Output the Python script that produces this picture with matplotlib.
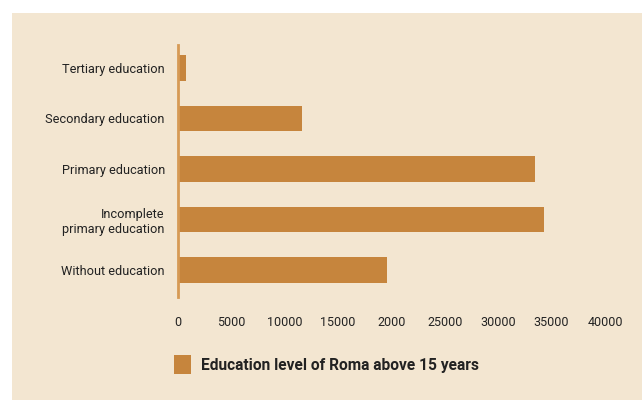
import matplotlib.pyplot as plt
from matplotlib.patches import Rectangle, Patch

# Data
categories = ['Without education', 'Incomplete\nprimary education', 'Primary education',
              'Secondary education', 'Tertiary education']
values = [19600, 34300, 33450, 11600, 750]
xticks = [0, 5000, 10000, 15000, 20000, 25000, 30000, 35000, 40000]
xtick_labels = ['0', '5000', '10000', '15000', '2000', '25000', '30000', '35000', '40000']
series_name = 'Education level of Roma above 15 years'

bar_color = '#C6853D'
bg_color = '#F3E6D1'
text_color = '#222222'

plt.rcParams['font.family'] = ['Roboto', 'DejaVu Sans']

fig = plt.figure(figsize=(6.42, 4.0), dpi=100, facecolor='white')
fig.patches.append(Rectangle((12 / 642, 0), 1 - 12 / 642, 1 - 13 / 400,
                             transform=fig.transFigure, facecolor=bg_color,
                             edgecolor='none', zorder=-10))

ax = fig.add_axes([178 / 642, 1 - 297 / 400, 427 / 642, (297 - 45) / 400])
ax.set_facecolor('none')
ax.barh(range(len(categories)), values, height=0.5, color=bar_color, zorder=2)

ax.set_xlim(0, 40000)
ax.set_ylim(-0.535, 4.455)
ax.set_yticks(range(len(categories)))
ax.set_yticklabels(categories, fontsize=9.2, color=text_color)
ax.set_xticks(xticks)
ax.set_xticklabels(xtick_labels, fontsize=9, color=text_color)
ax.tick_params(axis='both', length=0)
ax.tick_params(axis='y', pad=9.5)
ax.tick_params(axis='x', pad=13.5)

for s in ['top', 'right', 'bottom']:
    ax.spines[s].set_visible(False)
ax.spines['left'].set_color('#D69A55')
ax.spines['left'].set_linewidth(2)

fig.legend(handles=[Patch(facecolor=bar_color, label=series_name)],
           loc='center left', bbox_to_anchor=(166 / 642, 1 - 364.5 / 400),
           frameon=False, prop={'weight': 'bold', 'size': 11.2},
           handlelength=1.08, handleheight=1.5, handletextpad=0.7,
           borderpad=0, labelcolor=text_color)

fig.savefig('out.png', dpi=100, facecolor='white')
